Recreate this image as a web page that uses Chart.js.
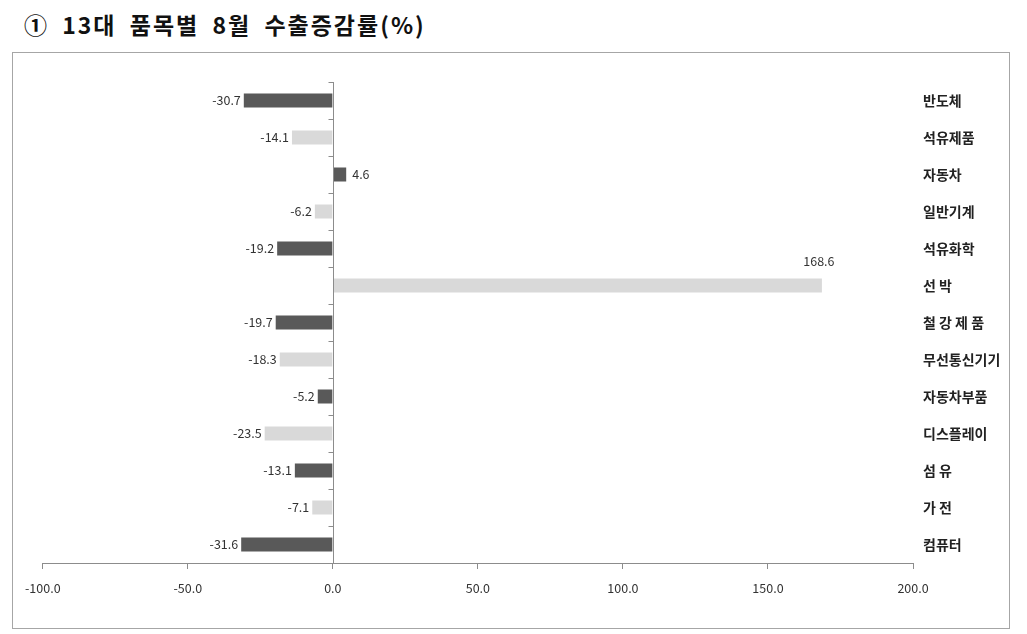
<!DOCTYPE html>
<html>
<head>
<meta charset="utf-8">
<script src="https://cdn.jsdelivr.net/npm/chart.js@4.4.0/dist/chart.umd.min.js"></script>
<style>
  body { margin: 0; background: #fff; font-family: "Noto Sans CJK KR", sans-serif; }
  #title { position: absolute; left: 24px; top: 7px; font-size: 23px; font-weight: bold; color: #111;
           letter-spacing: 2px; word-spacing: 6px; white-space: nowrap; }
  #box { position: absolute; left: 12px; top: 52px; width: 996px; height: 575px; border: 1px solid #a6a6a6; }
</style>
</head>
<body>
<div id="title">① 13대 품목별 8월 수출증감률(%)</div>
<div id="box"><canvas id="chart" width="996" height="575"></canvas></div>
<script>
// 13대 품목 (위에서 아래 순서)
const categories = ['반도체', '석유제품', '자동차', '일반기계', '석유화학', '선 박', '철 강 제 품',
    '무선통신기기', '자동차부품', '디스플레이', '섬 유', '가 전', '컴퓨터'];
const changeRates = [-30.7, -14.1, 4.6, -6.2, -19.2, 168.6, -19.7, -18.3, -5.2, -23.5, -13.1, -7.1, -31.6];
const xTicks = [-100, -50, 0, 50, 100, 150, 200];

const darkGrey = '#595959';
const lightGrey = '#d9d9d9';
const barColors = changeRates.map((_, i) => i % 2 === 0 ? darkGrey : lightGrey);

// zero line with little ticks + value labels
const labelPlugin = {
    id: 'labelPlugin',
    afterDatasetsDraw(chart) {
        const ctx = chart.ctx;
        const xs = chart.scales.x, ys = chart.scales.y;
        const area = chart.chartArea;
        const x0 = Math.round(xs.getPixelForValue(0)) + 0.5;
        ctx.save();
        ctx.strokeStyle = '#8c8c8c';
        ctx.lineWidth = 1;
        ctx.beginPath();
        ctx.moveTo(x0, area.top);
        ctx.lineTo(x0, area.bottom);
        for (let i = 0; i <= categories.length; i++) {
            const y = Math.round(ys.getPixelForValue(i - 0.5)) + 0.5;
            ctx.moveTo(x0 - 5, y);
            ctx.lineTo(x0, y);
        }
        ctx.stroke();

        ctx.fillStyle = '#333';
        ctx.font = '12.5px "Liberation Sans Narrow", "Noto Sans CJK KR", sans-serif';
        ctx.textBaseline = 'middle';
        chart.getDatasetMeta(0).data.forEach((bar, i) => {
            const v = changeRates[i];
            const txt = v.toFixed(1);
            if (v < 0) {
                ctx.textAlign = 'right';
                ctx.fillText(txt, bar.x - 3, bar.y);
            } else if (v > 100) {
                ctx.textAlign = 'center';
                ctx.fillText(txt, bar.x - 3, bar.y - 24);
            } else {
                ctx.textAlign = 'left';
                ctx.fillText(txt, bar.x + 6, bar.y);
            }
        });
        ctx.restore();
    }
};

new Chart(document.getElementById('chart').getContext('2d'), {
    type: 'bar',
    data: {
        labels: categories,
        datasets: [{
            data: changeRates,
            backgroundColor: barColors,
            borderColor: barColors,
            borderWidth: 0,
            barPercentage: 0.38,
            categoryPercentage: 1.0
        }]
    },
    options: {
        indexAxis: 'y',
        responsive: false,
        animation: false,
        layout: { padding: { left: 26, top: 29, right: 0, bottom: 20 } },
        plugins: { legend: { display: false }, tooltip: { enabled: false } },
        scales: {
            x: {
                min: -100,
                max: 200,
                afterBuildTicks: (scale) => { scale.ticks = xTicks.map(v => ({ value: v })); },
                border: { color: '#8c8c8c' },
                grid: { drawOnChartArea: false, tickLength: 6, color: '#8c8c8c' },
                ticks: {
                    color: '#333',
                    padding: 12,
                    font: { family: '"Liberation Sans Narrow", "Noto Sans CJK KR", sans-serif', size: 12.5 },
                    callback: (v) => Number(v).toFixed(1)
                }
            },
            y: {
                position: 'right',
                border: { display: false },
                grid: { display: false, drawTicks: false },
                afterFit: (scale) => { scale.width = 96; },
                ticks: {
                    color: '#222',
                    padding: 10,
                    font: { family: '"Noto Sans CJK KR", sans-serif', size: 14, weight: 'bold' }
                }
            }
        }
    },
    plugins: [labelPlugin]
});
</script>
</body>
</html>
